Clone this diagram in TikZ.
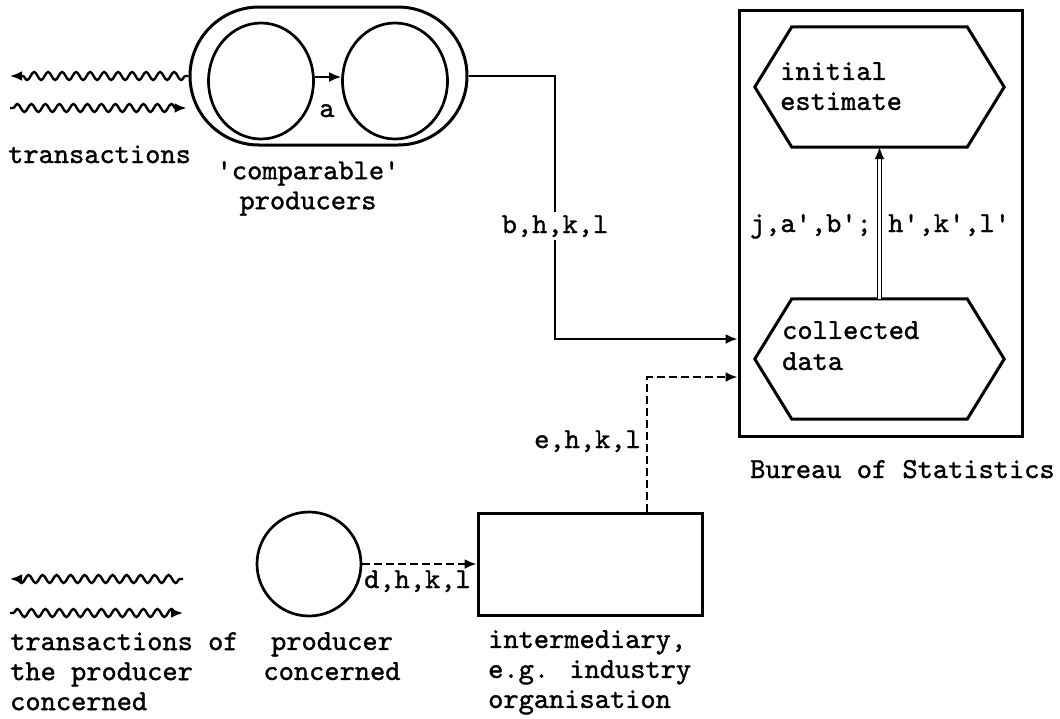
\documentclass[tikz,border=0pt]{standalone}
\usepackage{fontspec}
\newfontfamily\tyfont{lmmono10-regular.otf}[FakeBold=1.2]
\usetikzlibrary{arrows.meta,shapes.misc,shapes.geometric,decorations.pathmorphing}
\newcommand\qs{\textquotesingle}
\begin{document}
\begin{tikzpicture}[x=1pt,y=-1pt,
  txt/.style={font=\fontsize{29}{30}\selectfont\tyfont, inner sep=0pt},
  shapeline/.style={line width=3pt},
  conn/.style={line width=2.2pt},
  tip/.style={-{Latex[length=12pt,width=10pt]}},
  dashconn/.style={conn, dash pattern=on 8pt off 4pt},
  wavy/.style={line width=2.4pt, decorate, decoration={snake, segment length=14pt, amplitude=4pt, pre length=3pt, post length=7pt}},
  hexbox/.style={minimum width=249pt, minimum height=120pt, inner sep=0pt},
  ring/.style={draw, line width=2.7pt, inner sep=0pt},
]
\path[use as bounding box] (0,0) rectangle (1060,718);

% ---- comparable producers
\node[rounded rectangle, draw, shapeline, minimum width=277pt, minimum height=138pt, inner sep=0pt] (stad) at (328.5,76) {};
\node[ellipse, ring, minimum width=105pt, minimum height=116pt] (p1) at (261,81) {};
\node[ellipse, ring, minimum width=105pt, minimum height=116pt] (p2) at (395,81) {};
\draw[conn,tip] ([yshift=4pt]p1.east) -- ([yshift=4pt]p2.west);
\node[txt, anchor=base] (lbla) at (327,117) {a};

\coordinate (w1) at (10,76);
\coordinate (w2) at (10,108);
\draw[wavy,tip] (stad.west) -- (w1);
\draw[wavy,tip,shorten >=2pt] (w2) -- ([yshift=-32pt]stad.west);
\node[txt, anchor=base west] (ltr) at (8,163) {transactions};
\node[txt, anchor=north, align=center] (lcomp) at (308,161) {\qs comparable\qs\\producers};

% ---- Bureau of Statistics
\node[draw, shapeline, minimum width=283pt, minimum height=426pt, inner sep=0pt] (bureau) at (880.5,223) {};
\node[txt, anchor=base west] (lbur) at (750,478) {Bureau of Statistics};

\node[hexbox] (est) at (879.5,87) {};
\node[hexbox] (coll) at (879.5,359) {};
\foreach \h in {est,coll}
  \draw[shapeline, line join=miter] (\h.west) -- ([xshift=37pt]\h.north west) -- ([xshift=-37pt]\h.north east)
    -- (\h.east) -- ([xshift=-37pt]\h.south east) -- ([xshift=37pt]\h.south west) -- cycle;
\node[txt, anchor=north west, align=left] (lest) at (780,62) {initial\\estimate};
\node[txt, anchor=north west, align=left, font=\fontsize{29}{31}\selectfont\tyfont] (lcoll) at (782,321) {collected\\data};

\draw[double, double distance=2.4pt, line width=1.5pt, -{Latex[length=12pt,width=10pt]}] (coll.north) -- (est.south);
\node[txt, anchor=base east] (ljab) at (872,232) {j,a\qs,b\qs;};
\node[txt, anchor=base west] (lhkl) at (888,232) {h\qs,k\qs,l\qs};

% ---- connector from comparable producers
\node[txt, anchor=base, inner sep=3pt] (bhkl) at (555,233) {b,h,k,l};
\draw[conn] (stad.east) -| (bhkl.north);
\draw[conn,tip] (bhkl.south) |- ([yshift=-116pt]bureau.west);

% ---- producer concerned
\node[circle, ring, minimum size=104pt] (prod) at (309,564) {};
\node[draw, shapeline, minimum width=224pt, minimum height=102pt, inner sep=0pt] (inter) at (590,564) {};
\draw[dashconn,tip] (prod.east) -- (inter.west);
\node[txt, anchor=base west] (ldhkl) at (364,588) {d,h,k,l};
\draw[dashconn,tip] ([xshift=57pt]inter.north) |- ([yshift=-154pt]bureau.west);
\node[txt, anchor=base east] (lehkl) at (641,448) {e,h,k,l};

\coordinate (w3s) at (183,579);
\coordinate (w3e) at (10,579);
\coordinate (w4s) at (10,613);
\coordinate (w4e) at (183,613);
\draw[wavy,tip] (w3s) -- (w3e);
\draw[wavy,tip] (w4s) -- (w4e);

\node[txt, anchor=north west, align=left] (ltp) at (10,632) {transactions of\\the producer\\concerned};
\node[txt, anchor=north, align=center] (lpc) at (332,632) {producer\\concerned};
\node[txt, anchor=north west, align=left] (lint) at (488,630) {intermediary,\\e.g. industry\\organisation};
\end{tikzpicture}
\end{document}
